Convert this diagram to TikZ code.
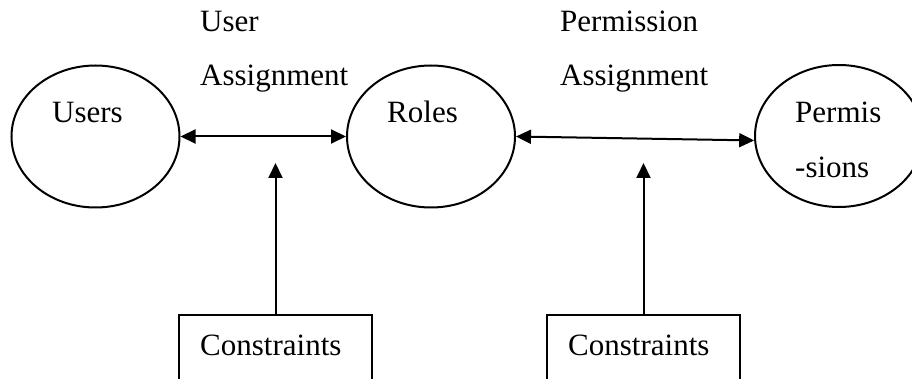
\documentclass[tikz,border=0pt]{standalone}
\usepackage{fontspec}
\setmainfont{Liberation Serif}
\usetikzlibrary{shapes.geometric,arrows.meta}
\begin{document}
\begin{tikzpicture}[x=1pt,y=-1pt,
  entity/.style={ellipse,draw,line width=2pt,minimum width=168pt,minimum height=142pt,inner sep=0pt},
  cbox/.style={rectangle,draw,line width=2pt,minimum width=193pt,minimum height=90pt,inner sep=0pt},
  lbl/.style={anchor=base west,inner sep=0pt,font=\fontsize{31}{37}\selectfont},
  link/.style={line width=2pt,-{Triangle[length=15pt,width=14pt]}},
  biarrow/.style={line width=2pt,{Triangle[length=15pt,width=14pt]}-{Triangle[length=15pt,width=14pt]}}]
\useasboundingbox (0,0) rectangle (912,379);
\clip (0,0) rectangle (912,379);

% entities
\node[entity] (users) at (95.5,136.5) {};
\node[entity] (roles) at (431,136.5) {};
\node[entity] (perm) at (839,136) {};

% constraint boxes (open towards the page bottom)
\node[cbox] (con1) at (275.5,360) {};
\node[cbox] (con2) at (643.5,360) {};

% labels
\node[lbl] (tUsers) at (52,123) {Users};
\node[lbl] (tRoles) at (387,123) {Roles};
\node[lbl] (tPerm1) at (795,123) {Permis};
\node[lbl] (tPerm2) at (795,178) {-sions};
\node[lbl] (tUA1) at (200,32) {User};
\node[lbl] (tUA2) at (200,86) {Assignment};
\node[lbl] (tPA1) at (560,32) {Permission};
\node[lbl] (tPA2) at (560,86) {Assignment};
\node[lbl] (tC1) at (200,355) {Constraints};
\node[lbl] (tC2) at (568,355) {Constraints};

% assignments
\draw[biarrow] (users.east) -- (roles.west);
\draw[biarrow] (roles.east) -- (perm.183.5);

% constraints acting on the assignments
\coordinate (ua) at (275.5,163);
\coordinate (pa) at (643.5,163);
\draw[link] (con1.north) -- (ua);
\draw[link] (con2.north) -- (pa);
\end{tikzpicture}
\end{document}
